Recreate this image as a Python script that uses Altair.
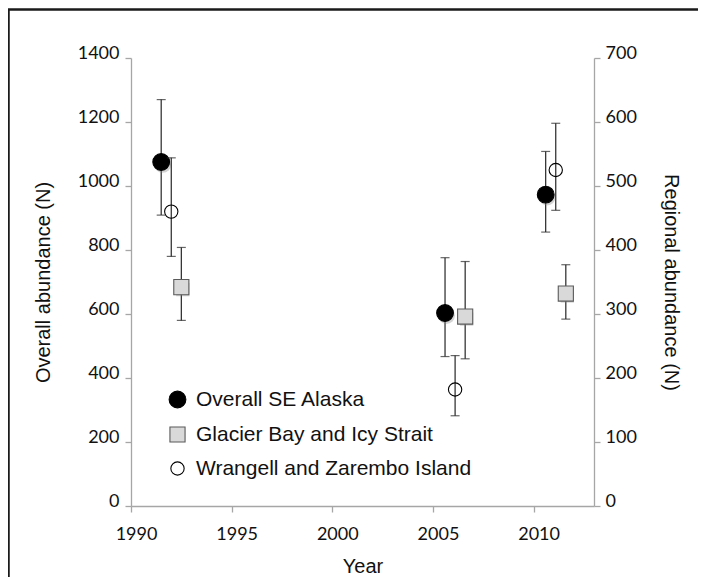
import altair as alt
import pandas as pd

series = ["Overall SE Alaska", "Glacier Bay and Icy Strait", "Wrangell and Zarembo Island"]

overall_year = [1991.5, 2005.6, 2010.6]
overall_n = [1075, 603, 973]
overall_lo = [909, 467, 856]
overall_hi = [1270, 776, 1108]

glacier_year = [1992.5, 2006.6, 2011.6]
glacier_n = [342, 296, 332]
glacier_lo = [290, 230, 292]
glacier_hi = [404, 382, 377]

wrangell_year = [1992.0, 2006.1, 2011.1]
wrangell_n = [460, 182, 525]
wrangell_lo = [390, 141, 462]
wrangell_hi = [544, 235, 598]

x_ticks = [1990, 1995, 2000, 2005, 2010]
left_ticks = [0, 200, 400, 600, 800, 1000, 1200, 1400]
right_ticks = [0, 100, 200, 300, 400, 500, 600, 700]


def frame(name, years, n, lo, hi):
    return pd.DataFrame({"series": name, "year": years, "n": n, "lo": lo, "hi": hi})


df_overall = frame(series[0], overall_year, overall_n, overall_lo, overall_hi)
df_glacier = frame(series[1], glacier_year, glacier_n, glacier_lo, glacier_hi)
df_wrangell = frame(series[2], wrangell_year, wrangell_n, wrangell_lo, wrangell_hi)
df_regional = pd.concat([df_glacier, df_wrangell], ignore_index=True)

W, H = 463, 448

x_enc = alt.X(
    "year:Q",
    scale=alt.Scale(domain=[1990, 2013], nice=False, zero=False),
    axis=alt.Axis(
        values=x_ticks, format="d", title="Year", labelFlush=False,
        labelOffset=5, labelPadding=13, tickSize=6,
        titleX=W / 2, titleY=60, titleBaseline="middle",
    ),
)

left_axis = alt.Axis(
    values=left_ticks, format="d", title="Overall abundance (N)", orient="left",
    labelBaseline="alphabetic", labelPadding=6, tickSize=6,
    titleX=-88, titleY=H / 2, titleBaseline="middle", titleAngle=270,
)
right_axis = alt.Axis(
    values=right_ticks, format="d", title="Regional abundance (N)", orient="right",
    labelBaseline="alphabetic", labelPadding=5, tickSize=6,
    titleX=76, titleY=H / 2, titleBaseline="middle", titleAngle=90,
)
left_scale = alt.Scale(domain=[0, 1400], nice=False, zero=True)
right_scale = alt.Scale(domain=[0, 700], nice=False, zero=True)

leg = alt.Legend(title=None)
shape_enc = alt.Shape("series:N", scale=alt.Scale(domain=series, range=["circle", "square", "circle"]), legend=leg)
fill_enc = alt.Fill("series:N", scale=alt.Scale(domain=series, range=["#000000", "#d9d9d9", "transparent"]), legend=leg)
stroke_enc = alt.Stroke("series:N", scale=alt.Scale(domain=series, range=["#000000", "#5a5a5a", "#000000"]), legend=leg)
size_enc = alt.Size("series:N", scale=alt.Scale(domain=series, range=[280, 177, 160]), legend=leg)

err_style = dict(color="#262626", thickness=1.2, ticks={"size": 9, "thickness": 1.2})


def errbar(df, yscale, yaxis):
    return alt.Chart(df).mark_errorbar(**err_style).encode(
        x=x_enc,
        y=alt.Y("lo:Q", scale=yscale, axis=yaxis),
        y2="hi:Q",
    )


def points(df, yscale, yaxis):
    return alt.Chart(df).mark_point(strokeWidth=1.1, opacity=1).encode(
        x=x_enc,
        y=alt.Y("n:Q", scale=yscale, axis=yaxis),
        shape=shape_enc, fill=fill_enc, stroke=stroke_enc, size=size_enc,
    )


def shadow(df, yscale, yaxis, shape, size):
    return alt.Chart(df).mark_point(
        shape=shape, filled=True, color="#808080", opacity=0.35, size=size,
        xOffset=1.5, yOffset=2.5,
    ).encode(x=x_enc, y=alt.Y("n:Q", scale=yscale, axis=yaxis))


left = alt.layer(
    errbar(df_overall, left_scale, left_axis),
    shadow(df_overall, left_scale, left_axis, "circle", 280),
    points(df_overall, left_scale, left_axis),
)
right = alt.layer(
    errbar(df_glacier, right_scale, right_axis),
    errbar(df_wrangell, right_scale, right_axis),
    shadow(df_glacier, right_scale, right_axis, "square", 177),
    points(df_regional, right_scale, right_axis),
)

one = pd.DataFrame({"a": [0]})
border = alt.Chart(one).mark_rect(fill="transparent", stroke="#1a1a1a", strokeWidth=2.5).encode(
    x=alt.value(-122.5), x2=alt.value(W + 400),
    y=alt.value(-48.5), y2=alt.value(H + 400),
)

chart = alt.layer(left, right, border).resolve_scale(
    y="independent"
).properties(
    width=W, height=H,
    autosize=alt.AutoSizeParams(type="none"),
    padding={"left": 123, "top": 50, "right": 104, "bottom": 72},
).configure_view(stroke=None).configure_axis(
    grid=False,
    domainColor="#a6a6a6", domainWidth=1.3,
    tickColor="#a6a6a6", tickWidth=1.3,
    labelFont="Lato", labelFontSize=18, labelColor="#111111",
    titleFont="Liberation Sans", titleFontSize=20, titleFontWeight="normal", titleColor="#111111",
).configure_legend(
    orient="none", legendX=36, legendY=331, padding=0,
    labelFont="Liberation Sans", labelFontSize=21, labelColor="#111111",
    labelLimit=0, labelOffset=8, rowPadding=12, symbolStrokeWidth=1.1,
)

chart.save("out.html", embed_options={"renderer": "svg", "actions": False})
